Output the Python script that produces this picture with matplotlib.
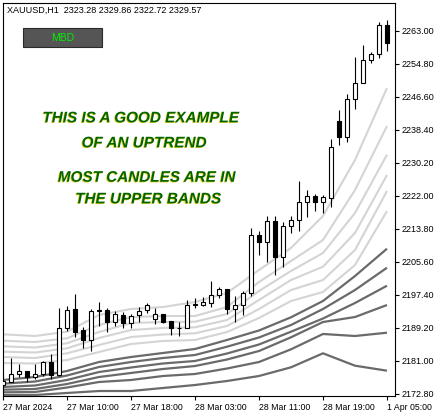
import matplotlib
matplotlib.use("Agg")
import matplotlib.pyplot as plt
import matplotlib.patheffects as pe
from matplotlib.patches import Rectangle

W, H = 441, 417

# candles, one per hour bar
opens = [2174.95, 2175.77, 2177.61, 2178.36, 2176.94, 2177.61, 2180.59, 2177.44, 2189.04, 2193.84,
         2188.62, 2186.06, 2193.27, 2193.67, 2190.53, 2192.35, 2190.29, 2192.35, 2193.59, 2191.28,
         2192.60, 2190.86, 2189.24, 2189.19, 2194.91, 2194.91, 2195.41, 2197.24, 2198.74, 2193.77,
         2194.83, 2197.74, 2212.16, 2210.42, 2215.71, 2206.64, 2214.47, 2215.96, 2220.38, 2221.85,
         2220.36, 2221.35, 2240.56, 2236.66, 2245.95, 2249.93, 2255.72, 2257.14, 2264.42]
highs = [2177.61, 2181.74, 2180.10, 2178.40, 2180.10, 2180.92, 2182.66, 2194.16, 2194.51, 2197.64,
         2189.44, 2193.77, 2195.50, 2194.16, 2193.34, 2193.17, 2192.60, 2194.26, 2195.41, 2194.01,
         2192.65, 2190.90, 2190.53, 2196.08, 2196.50, 2196.90, 2200.80, 2199.23, 2198.80, 2197.07,
         2198.39, 2213.89, 2213.22, 2216.83, 2216.95, 2215.46, 2216.83, 2225.65, 2223.41, 2222.42,
         2222.17, 2236.01, 2243.29, 2247.20, 2256.54, 2259.45, 2257.78, 2265.09, 2265.66]
lows = [2174.70, 2175.60, 2177.02, 2175.62, 2176.37, 2177.26, 2176.37, 2177.19, 2188.45, 2186.96,
        2184.22, 2183.48, 2189.69, 2188.20, 2189.69, 2189.04, 2189.04, 2190.68, 2192.77, 2190.04,
        2190.45, 2187.30, 2187.20, 2189.04, 2194.01, 2194.59, 2194.41, 2196.50, 2192.60, 2190.68,
        2192.35, 2197.07, 2207.14, 2205.59, 2202.29, 2204.28, 2212.73, 2213.30, 2216.58, 2218.12,
        2217.77, 2219.26, 2234.60, 2235.42, 2243.62, 2249.90, 2254.90, 2256.29, 2258.03]
closes = [2175.95, 2177.61, 2178.36, 2177.02, 2177.69, 2180.59, 2177.36, 2189.04, 2193.67, 2188.20,
          2186.06, 2193.34, 2193.52, 2190.53, 2192.52, 2190.29, 2192.18, 2193.42, 2194.91, 2192.60,
          2190.53, 2189.04, 2189.12, 2194.83, 2195.08, 2195.58, 2197.24, 2198.74, 2193.77, 2194.91,
          2197.74, 2212.16, 2210.37, 2215.71, 2206.64, 2214.47, 2215.96, 2220.38, 2221.87, 2220.36,
          2221.60, 2234.02, 2236.66, 2245.95, 2249.93, 2255.72, 2257.14, 2264.42, 2260.02]

# bands, read every 4 bars
band_x = [0, 4, 8, 12, 16, 20, 24, 28, 32, 36, 40, 44, 48]
upper_bands = [
    [2187.55, 2187.13, 2188.20, 2192.35, 2193.84, 2194.34, 2195.58, 2197.82, 2203.53, 2209.00, 2216.95, 2230.87, 2248.76],
    [2185.96, 2185.64, 2186.56, 2189.86, 2191.85, 2192.10, 2192.10, 2194.34, 2200.55, 2205.77, 2210.99, 2223.41, 2239.32],
    [2184.57, 2184.27, 2185.32, 2188.12, 2190.36, 2190.61, 2190.68, 2192.60, 2198.31, 2203.28, 2207.76, 2217.70, 2232.19],
    [2183.23, 2183.03, 2184.07, 2186.63, 2188.62, 2189.12, 2189.29, 2191.11, 2196.08, 2201.05, 2204.35, 2212.73, 2227.14],
    [2181.91, 2181.66, 2182.83, 2184.89, 2186.88, 2187.50, 2187.80, 2189.62, 2193.84, 2198.56, 2201.05, 2208.50, 2223.16],
    [2180.42, 2180.30, 2181.17, 2183.15, 2185.14, 2185.89, 2186.14, 2188.12, 2191.60, 2195.83, 2198.07, 2204.77, 2218.19],
]
lower_bands = [
    [2176.20, 2176.94, 2178.43, 2180.67, 2181.91, 2182.91, 2183.90, 2186.14, 2188.50, 2191.78, 2195.83, 2202.04, 2208.83],
    [2175.28, 2175.82, 2177.31, 2179.43, 2180.67, 2181.66, 2182.41, 2184.47, 2186.76, 2189.86, 2193.84, 2198.56, 2204.10],
    [2174.46, 2174.83, 2176.20, 2178.18, 2179.30, 2180.30, 2180.92, 2182.78, 2185.02, 2188.20, 2191.48, 2195.33, 2199.63],
    [2173.78, 2173.96, 2175.20, 2176.94, 2177.94, 2178.93, 2179.67, 2181.29, 2183.40, 2186.81, 2190.61, 2191.85, 2194.83],
    [2173.14, 2173.21, 2174.33, 2175.70, 2176.20, 2177.19, 2177.69, 2179.05, 2180.67, 2183.82, 2187.63, 2187.13, 2187.95],
    [2172.47, 2172.47, 2172.97, 2173.46, 2173.46, 2174.21, 2174.95, 2175.95, 2177.19, 2179.35, 2182.83, 2179.75, 2178.51],
]

price_ticks = [2172.80, 2181.00, 2189.20, 2197.40, 2205.60, 2213.80, 2222.00, 2230.20, 2238.40, 2246.60, 2254.80, 2263.00]
time_pos = [0, 8, 16, 24, 32, 40, 48]
time_labels = ['27 Mar 2024', '27 Mar 10:00', '27 Mar 18:00', '28 Mar 03:00',
               '28 Mar 11:00', '28 Mar 19:00', '1 Apr 05:00']

plt.rcParams['font.family'] = ['Liberation Sans', 'DejaVu Sans']

fig = plt.figure(figsize=(W / 100, H / 100), dpi=100)
ax = fig.add_axes([2.5 / W, 21 / H, 392.5 / W, 393.5 / H])

for b in upper_bands:
    ax.plot(band_x, b, color='#d4d4d4', lw=1.5, zorder=1, solid_capstyle='butt')
for b in lower_bands:
    ax.plot(band_x, b, color='#6a6a6a', lw=1.6, zorder=2, solid_capstyle='butt')

n = len(opens)
xs = list(range(n))
ax.vlines(xs, lows, highs, color='black', lw=0.8, zorder=3)
for i in range(n):
    up = closes[i] >= opens[i]
    h = closes[i] - opens[i]
    if abs(h) < 0.15:
        h = 0.15 if up else -0.15
    ax.bar(i, h, bottom=opens[i], width=0.6,
           color='white' if up else 'black', edgecolor='black', lw=0.8, zorder=4)

ax.set_xlim(-0.06, 49.0)
ax.set_ylim(2172.22, 2270.01)

ax.yaxis.tick_right()
ax.set_yticks(price_ticks)
ax.set_yticklabels(['%.2f' % t for t in price_ticks])
ax.set_xticks(time_pos)
ax.set_xticklabels(time_labels, ha='left')
ax.tick_params(axis='both', direction='out', length=3, width=0.8, labelsize=6.5,
               color='black', pad=2)
ax.tick_params(axis='x', labelsize=6.3)
for s in ax.spines.values():
    s.set_linewidth(0.8)

# header and button
fig.text(7 / W, 1 - 10 / H, 'XAUUSD,H1  2323.28 2329.86 2322.72 2329.57',
         fontsize=6.5, va='center', ha='left')
fig.patches.append(Rectangle((23.3 / W, 1 - 47.3 / H), 78.7 / W, 19 / H,
                             transform=fig.transFigure, facecolor='#555555',
                             edgecolor='#2a2a2a', lw=0.8))
fig.text(62.5 / W, 1 - 38 / H, 'MBD', color='#00f000', fontsize=7.5,
         ha='center', va='center')

shadow = [pe.withSimplePatchShadow(offset=(-0.6, -0.5), shadow_rgbFace='#e0c800', alpha=0.9)]
notes = [('THIS IS A GOOD EXAMPLE', 140.5, 118.3),
         ('OF AN UPTREND', 144, 143.3),
         ('MOST CANDLES ARE IN', 146.5, 177.7),
         ('THE UPPER BANDS', 148, 199.3)]
for txt, px, py in notes:
    fig.text(px / W, 1 - py / H, txt, color='#006400', fontsize=11,
             fontweight='bold', fontstyle='italic', ha='center', va='center',
             path_effects=shadow)

fig.savefig('out.png', dpi=100)
